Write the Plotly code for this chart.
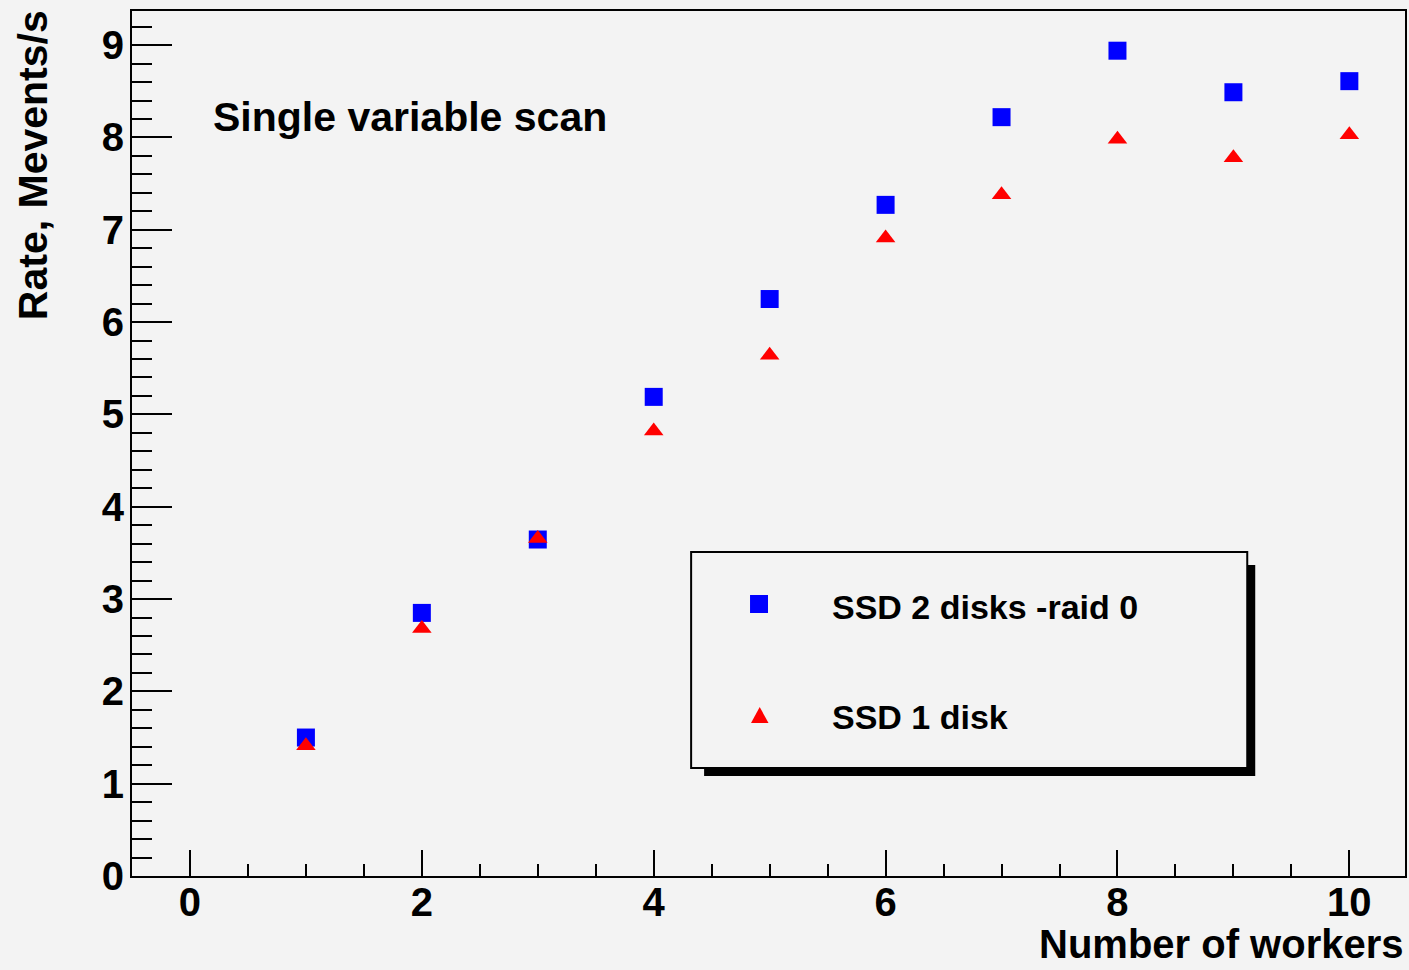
import plotly.graph_objects as go

# ---- data ----
workers = [1, 2, 3, 4, 5, 6, 7, 8, 9, 10]
rate_raid0 = [1.50, 2.85, 3.645, 5.19, 6.25, 7.27, 8.22, 8.94, 8.49, 8.61]
rate_1disk = [1.41, 2.68, 3.655, 4.82, 5.64, 6.91, 7.38, 7.98, 7.78, 8.03]
series_names = ["SSD 2 disks -raid 0", "SSD 1 disk"]
x_title = "Number of workers"
y_title = "Rate, Mevents/s"
plot_label = "Single variable scan"

W, H = 1409, 970
ML, MR, MT, MB = 132, 2, 11, 94
PW, PH = W - ML - MR, H - MT - MB
BG = "#f3f3f3"
FONT = "Liberation Sans"


def px(xp):
    return (xp - ML) / PW


def py(yp):
    return (H - MB - yp) / PH


fig = go.Figure()
fig.add_trace(go.Scatter(x=workers, y=rate_raid0, mode="markers", name=series_names[0],
                         marker=dict(symbol="square", size=18, color="#0000ff", line=dict(width=0))))
fig.add_trace(go.Scatter(x=workers, y=rate_1disk, mode="markers", name=series_names[1],
                         marker=dict(symbol="triangle-up", size=17, color="#ff0000", line=dict(width=0))))

tickfont = dict(family=FONT, size=40, color="black", weight="bold")

fig.update_xaxes(range=[-0.5, 10.48], tickmode="linear", tick0=0, dtick=2,
                 ticks="inside", ticklen=26, tickwidth=2, tickcolor="black",
                 minor=dict(dtick=0.5, tick0=0, ticks="inside", ticklen=12, tickwidth=2, tickcolor="black"),
                 showline=True, linecolor="black", linewidth=2, mirror=True,
                 showgrid=False, zeroline=False, tickfont=tickfont, ticklabelstandoff=-10)
fig.update_yaxes(range=[0, 9.37], tickmode="linear", tick0=0, dtick=1,
                 ticks="inside", ticklen=40, tickwidth=2, tickcolor="black",
                 minor=dict(dtick=0.2, tick0=0, ticks="inside", ticklen=20, tickwidth=2, tickcolor="black"),
                 showline=True, linecolor="black", linewidth=2, mirror=True,
                 showgrid=False, zeroline=False, tickfont=tickfont, ticklabelstandoff=-2)

txtfont = dict(family=FONT, size=41, color="black", weight="bold")
xtfont = dict(family=FONT, size=40, color="black", weight="bold")
legfont = dict(family=FONT, size=34, color="black", weight="bold")

annotations = [
    dict(text=plot_label, x=px(211), y=py(117.5), xref="paper", yref="paper",
         xanchor="left", yanchor="middle", showarrow=False, font=txtfont),
    dict(text=x_title, x=px(1408), y=py(944), xref="paper", yref="paper",
         xanchor="right", yanchor="middle", showarrow=False, font=xtfont),
    dict(text=y_title, x=px(33), y=py(165), xref="paper", yref="paper",
         xanchor="center", yanchor="middle", textangle=-90, showarrow=False, font=txtfont),
    dict(text=series_names[0], x=px(831), y=py(606.5), xref="paper", yref="paper",
         xanchor="left", yanchor="middle", showarrow=False, font=legfont),
    dict(text=series_names[1], x=px(831), y=py(716.5), xref="paper", yref="paper",
         xanchor="left", yanchor="middle", showarrow=False, font=legfont),
]

tri = "M {:.5f} {:.5f} L {:.5f} {:.5f} L {:.5f} {:.5f} Z".format(
    px(752), py(723), px(769.5), py(723), px(760.7), py(707))
shapes = [
    dict(type="rect", xref="paper", yref="paper", x0=px(705), x1=px(1257), y0=py(565), y1=py(776),
         fillcolor="black", line=dict(width=0), layer="above"),
    dict(type="rect", xref="paper", yref="paper", x0=px(692), x1=px(1249), y0=py(552), y1=py(768),
         fillcolor=BG, line=dict(color="black", width=2), layer="above"),
    dict(type="rect", xref="paper", yref="paper", x0=px(751), x1=px(769), y0=py(595), y1=py(613),
         fillcolor="#0000ff", line=dict(width=0), layer="above"),
    dict(type="path", xref="paper", yref="paper", path=tri,
         fillcolor="#ff0000", line=dict(width=0), layer="above"),
]

fig.update_layout(width=W, height=H, margin=dict(l=ML, r=MR, t=MT, b=MB),
                  paper_bgcolor=BG, plot_bgcolor=BG, showlegend=False,
                  annotations=annotations, shapes=shapes)

fig.write_html("out.html", config={"displayModeBar": False},
               post_script="document.body.style.margin='0';document.body.style.overflow='hidden';"
                           "document.body.style.background='" + BG + "';")
